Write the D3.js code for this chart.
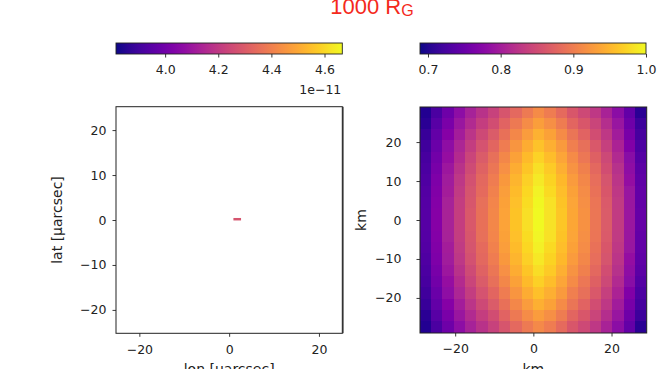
<!DOCTYPE html>
<html><head><meta charset="utf-8">
<script src="https://cdn.jsdelivr.net/npm/d3@7/dist/d3.min.js"></script>
<style>
html,body{margin:0;padding:0;background:#fff;}
svg{display:block;}
text{font-family:"DejaVu Sans",sans-serif;}
</style></head>
<body>
<svg id="c" width="671" height="369"></svg>
<script>
// ---------- data ----------
const titleMain = "1000 R";
const titleSub = "G";
const leftXLabel = "lon [\u03bcarcsec]";
const leftYLabel = "lat [\u03bcarcsec]";
const rightXLabel = "km";
const rightYLabel = "km";
const leftDomain = [-25.2, 25.2];
const leftXTicks = [-20, 0, 20];
const leftYTicks = [-20, -10, 0, 10, 20];
const rightDomain = [-29, 29];
const rightXTicks = [-20, 0, 20];
const rightYTicks = [-20, -10, 0, 10, 20];
const leftCbarRange = [3.815e-11, 4.667e-11];
const leftCbarTicks = [4.0e-11, 4.2e-11, 4.4e-11, 4.6e-11];
const leftCbarOffset = "1e\u221211";
const rightCbarRange = [0.689, 1.0];
const rightCbarTicks = [0.7, 0.8, 0.9, 1.0];
// small image in left panel: [lon0, lon1, lat0, lat1, value]
const leftSource = [[0.95, 2.65, -0.1, 0.45, 4.28e-11]];
// right panel 20x20 image (row 0 = top, km)
const gridRows = [
[0.700,0.729,0.754,0.779,0.802,0.822,0.839,0.860,0.880,0.897,0.913,0.900,0.883,0.862,0.848,0.828,0.805,0.778,0.745,0.706],
[0.705,0.738,0.764,0.790,0.814,0.835,0.853,0.875,0.896,0.914,0.930,0.917,0.899,0.877,0.862,0.841,0.817,0.789,0.754,0.717],
[0.713,0.746,0.773,0.800,0.825,0.847,0.866,0.888,0.910,0.929,0.946,0.932,0.913,0.891,0.875,0.853,0.828,0.798,0.763,0.724],
[0.719,0.752,0.781,0.809,0.834,0.857,0.877,0.900,0.923,0.942,0.959,0.945,0.926,0.902,0.886,0.863,0.837,0.807,0.770,0.730],
[0.724,0.758,0.787,0.816,0.843,0.866,0.886,0.910,0.933,0.953,0.971,0.956,0.936,0.913,0.895,0.872,0.846,0.814,0.776,0.735],
[0.728,0.763,0.793,0.822,0.849,0.873,0.894,0.918,0.942,0.962,0.981,0.965,0.945,0.921,0.903,0.879,0.852,0.820,0.781,0.739],
[0.731,0.767,0.797,0.827,0.855,0.879,0.900,0.925,0.949,0.970,0.988,0.973,0.952,0.928,0.909,0.885,0.858,0.825,0.786,0.743],
[0.733,0.770,0.800,0.831,0.859,0.883,0.905,0.930,0.954,0.975,0.994,0.978,0.957,0.933,0.914,0.889,0.862,0.828,0.789,0.745],
[0.735,0.772,0.803,0.834,0.861,0.886,0.908,0.933,0.958,0.979,0.998,0.982,0.961,0.936,0.917,0.892,0.864,0.831,0.791,0.747],
[0.736,0.773,0.804,0.835,0.863,0.888,0.910,0.935,0.960,0.981,1.000,0.984,0.963,0.938,0.919,0.894,0.866,0.832,0.792,0.748],
[0.736,0.773,0.804,0.835,0.863,0.888,0.910,0.935,0.960,0.981,0.999,0.984,0.963,0.938,0.919,0.894,0.866,0.832,0.792,0.748],
[0.735,0.772,0.803,0.834,0.861,0.886,0.908,0.933,0.958,0.979,0.997,0.982,0.961,0.936,0.917,0.892,0.864,0.831,0.791,0.747],
[0.733,0.770,0.800,0.831,0.859,0.883,0.905,0.930,0.954,0.975,0.993,0.978,0.957,0.933,0.914,0.889,0.862,0.828,0.789,0.745],
[0.731,0.767,0.797,0.827,0.855,0.879,0.900,0.925,0.949,0.970,0.987,0.973,0.952,0.928,0.909,0.885,0.858,0.825,0.786,0.743],
[0.728,0.763,0.793,0.822,0.849,0.873,0.894,0.918,0.942,0.962,0.980,0.965,0.945,0.921,0.903,0.879,0.852,0.820,0.781,0.739],
[0.724,0.758,0.787,0.816,0.843,0.866,0.886,0.910,0.933,0.953,0.970,0.956,0.936,0.913,0.895,0.872,0.846,0.814,0.776,0.735],
[0.719,0.752,0.781,0.809,0.834,0.857,0.877,0.900,0.923,0.942,0.958,0.945,0.926,0.902,0.886,0.863,0.837,0.807,0.770,0.730],
[0.713,0.746,0.773,0.800,0.825,0.847,0.866,0.888,0.910,0.929,0.945,0.932,0.913,0.891,0.875,0.853,0.828,0.798,0.763,0.724],
[0.705,0.738,0.764,0.790,0.814,0.835,0.853,0.875,0.896,0.914,0.929,0.917,0.899,0.877,0.862,0.841,0.817,0.789,0.754,0.717],
[0.700,0.729,0.754,0.779,0.802,0.822,0.839,0.860,0.880,0.897,0.912,0.900,0.883,0.862,0.848,0.828,0.805,0.778,0.745,0.706]
];

// ---------- layout ----------
const svg = d3.select("#c");
const L = {x0:116, x1:342.3, y0:106.7, y1:333.3};
const R = {x0:420, x1:646.7, y0:107, y1:333};
const CB = {y0:43, y1:54};
const TICKFONT = "12.5px", LABELFONT = "14px", INK = "#222";

const xL = d3.scaleLinear(leftDomain, [L.x0, L.x1]);
const yL = d3.scaleLinear(leftDomain, [L.y1, L.y0]);
const xR = d3.scaleLinear(rightDomain, [R.x0, R.x1]);
const yR = d3.scaleLinear(rightDomain, [R.y1, R.y0]);
const colL = d3.scaleSequential(d3.interpolatePlasma).domain(leftCbarRange);
const colR = d3.scaleSequential(d3.interpolatePlasma).domain(rightCbarRange);

const defs = svg.append("defs");
defs.append("filter").attr("id","soft").attr("x","-2%").attr("y","-2%").attr("width","104%").attr("height","104%")
  .append("feGaussianBlur").attr("stdDeviation",0.7);

// title
const t = svg.append("text").attr("x", 372).attr("y", 14).attr("text-anchor","middle")
  .style("font-family","'Liberation Sans',Arial,sans-serif").style("font-size","22px").attr("fill","#f42a1c");
t.append("tspan").text(titleMain);
t.append("tspan").attr("dy", 2).style("font-size","16px").text(titleSub);

function styleAxis(g){
  g.select(".domain").remove();
  g.selectAll(".tick line").attr("stroke",INK).attr("stroke-width",0.9);
  g.selectAll(".tick text").attr("fill",INK).style("font-size",TICKFONT).style("font-family","'DejaVu Sans',sans-serif");
}

// ---------- left panel ----------
svg.append("g").selectAll("rect").data(leftSource).join("rect")
  .attr("x", d => xL(d[0])).attr("width", d => xL(d[1]) - xL(d[0]))
  .attr("y", d => yL(d[3])).attr("height", d => yL(d[2]) - yL(d[3]))
  .attr("fill", d => colL(d[4]));
svg.append("rect").attr("x",L.x0).attr("y",L.y0).attr("width",L.x1-L.x0).attr("height",L.y1-L.y0)
  .attr("fill","none").attr("stroke",INK).attr("stroke-width",1);
svg.append("line").attr("x1",L.x1+0.5).attr("x2",L.x1+0.5).attr("y1",L.y0).attr("y2",L.y1).attr("stroke","#333").attr("stroke-width",1.6);
svg.append("g").attr("transform",`translate(0,${L.y1})`)
  .call(d3.axisBottom(xL).tickValues(leftXTicks).tickSize(3.5).tickPadding(8).tickSizeOuter(0)).call(styleAxis);
svg.append("g").attr("transform",`translate(${L.x0},0)`)
  .call(d3.axisLeft(yL).tickValues(leftYTicks).tickSize(3.5).tickPadding(6).tickSizeOuter(0)).call(styleAxis);
svg.append("text").attr("transform",`translate(62,${(L.y0+L.y1)/2}) rotate(-90)`).attr("text-anchor","middle")
  .style("font-size",LABELFONT).attr("fill",INK).text(leftYLabel);
svg.append("text").attr("x",(L.x0+L.x1)/2).attr("y",374).attr("text-anchor","middle")
  .style("font-size",LABELFONT).attr("fill",INK).text(leftXLabel);

// ---------- right panel ----------
const nR = gridRows.length, nC = gridRows[0].length;
const dx = (rightDomain[1]-rightDomain[0])/nC, dy = (rightDomain[1]-rightDomain[0])/nR;
const cells = [];
gridRows.forEach((row,i) => row.forEach((v,j) => cells.push({i,j,v})));
svg.append("clipPath").attr("id","rclip").append("rect")
  .attr("x",R.x0).attr("y",R.y0).attr("width",R.x1-R.x0).attr("height",R.y1-R.y0);
svg.append("g").attr("clip-path","url(#rclip)").append("g").attr("filter","url(#soft)")
  .selectAll("rect").data(cells).join("rect")
  .attr("shape-rendering","crispEdges")
  .attr("x", d => Math.floor(xR(rightDomain[0] + d.j*dx)) - (d.j===0?2:0))
  .attr("width", d => Math.ceil(xR(rightDomain[0] + (d.j+1)*dx)) - Math.floor(xR(rightDomain[0] + d.j*dx)) + 1 + (d.j===0||d.j===nC-1?2:0))
  .attr("y", d => Math.floor(yR(rightDomain[1] - d.i*dy)) - (d.i===0?2:0))
  .attr("height", d => Math.ceil(yR(rightDomain[1] - (d.i+1)*dy)) - Math.floor(yR(rightDomain[1] - d.i*dy)) + 1 + (d.i===0||d.i===nR-1?2:0))
  .attr("fill", d => colR(d.v));
svg.append("rect").attr("x",R.x0).attr("y",R.y0).attr("width",R.x1-R.x0).attr("height",R.y1-R.y0)
  .attr("fill","none").attr("stroke",INK).attr("stroke-width",1);
svg.append("g").attr("transform",`translate(0,${R.y1})`)
  .call(d3.axisBottom(xR).tickValues(rightXTicks).tickSize(3.5).tickPadding(8).tickSizeOuter(0)).call(styleAxis);
svg.append("g").attr("transform",`translate(${R.x0},0)`)
  .call(d3.axisLeft(yR).tickValues(rightYTicks).tickSize(3.5).tickPadding(15).tickSizeOuter(0)).call(styleAxis);
svg.append("text").attr("transform",`translate(366,${(R.y0+R.y1)/2}) rotate(-90)`).attr("text-anchor","middle")
  .style("font-size",LABELFONT).attr("fill",INK).text(rightYLabel);
svg.append("text").attr("x",(R.x0+R.x1)/2).attr("y",374).attr("text-anchor","middle")
  .style("font-size",LABELFONT).attr("fill",INK).text(rightXLabel);

// ---------- colorbars ----------
const grad = defs.append("linearGradient").attr("id","plasma").attr("x1","0%").attr("x2","100%");
d3.range(0,1.0001,0.05).forEach(s => grad.append("stop").attr("offset", (s*100)+"%").attr("stop-color", d3.interpolatePlasma(s)));

function colorbar(x0, x1, range, ticks, fmt){
  const sc = d3.scaleLinear(range, [x0, x1]);
  svg.append("rect").attr("x",x0).attr("y",CB.y0).attr("width",x1-x0).attr("height",CB.y1-CB.y0)
    .attr("fill","url(#plasma)").attr("stroke",INK).attr("stroke-width",0.9);
  svg.append("g").attr("transform",`translate(0,${CB.y1})`)
    .call(d3.axisBottom(sc).tickValues(ticks).tickFormat(fmt).tickSize(3.5).tickPadding(8).tickSizeOuter(0)).call(styleAxis);
  return sc;
}
colorbar(L.x0, L.x1, leftCbarRange, leftCbarTicks, d => (d/1e-11).toFixed(1));
colorbar(R.x0, 646, rightCbarRange, rightCbarTicks, d => d.toFixed(1));
svg.append("text").attr("x",L.x1-1).attr("y",93.5).attr("text-anchor","end")
  .style("font-size",TICKFONT).attr("fill",INK).text(leftCbarOffset);
</script>
</body></html>
